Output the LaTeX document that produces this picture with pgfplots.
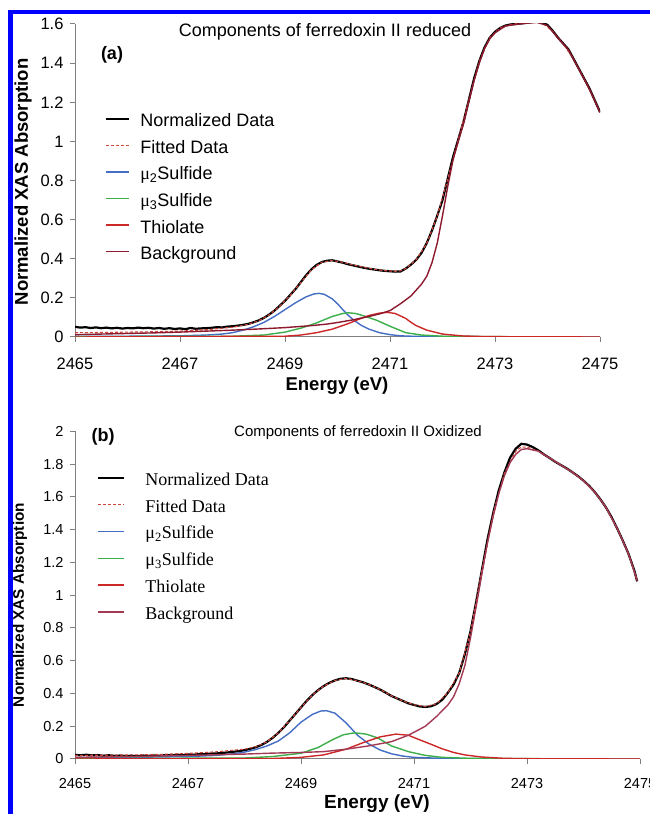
\documentclass[border=0pt]{standalone}
\usepackage{pgfplots}
\pgfplotsset{compat=1.18}
\usepackage{fontspec}
\setmainfont{Liberation Sans}
\newfontfamily\timesfont{Liberation Serif}
\definecolor{cblue}{RGB}{68,110,196}
\definecolor{cgreen}{RGB}{60,175,75}
\definecolor{cred}{RGB}{205,40,40}
\definecolor{cmaroon}{RGB}{140,25,45}
\definecolor{cfit}{RGB}{205,70,60}
\definecolor{cmauve}{RGB}{175,70,100}
\definecolor{axgray}{RGB}{128,128,128}
\pgfplotsset{
  myaxis/.style={
    scale only axis,
    axis x line=bottom, axis y line=left,
    axis line style={-, axgray, line width=1pt},
    every tick/.style={axgray, line width=1pt},
    tick align=outside, major tick length=5pt,
    xmin=2465, xmax=2475, ymin=0,
    xtick={2465,2467,2469,2471,2473,2475},
    xticklabels={2465,2467,2469,2471,2473,2475},
    /pgf/number format/assume math mode=true,
    legend cell align=left,
    legend image code/.code={\draw[#1] (0pt,0.35em) -- (23pt,0.35em);},
  },
}
\begin{document}
\begin{tikzpicture}
\useasboundingbox (0pt,0pt) rectangle (650pt,814pt);
\fill[white] (0pt,0pt) rectangle (650pt,814pt);
\fill[blue] (8pt,0pt) rectangle (13pt,804pt);
\fill[blue] (8pt,800pt) rectangle (650pt,804pt);

% ---------------- panel (a)
\begin{axis}[myaxis, at={(75pt,477pt)}, anchor=south west,
  width=525pt, height=313pt, ymax=1.6,
  ytick={0,0.2,0.4,0.6,0.8,1,1.2,1.4,1.6},
  yticklabels={0,0.2,0.4,0.6,0.8,1,1.2,1.4,1.6},
  ticklabel style={font=\fontsize{16.5}{18}\selectfont},
  xticklabel style={yshift=-12pt},
  yticklabel style={xshift=-3pt},
  legend style={at={(0.057,0.714)}, anchor=north west, draw=none, fill=none,
    inner sep=0pt, row sep=9.6pt, font=\fontsize{18}{20}\selectfont,
    nodes={inner sep=0pt, text height=13pt, text depth=4pt},
    /tikz/every odd column/.style={column sep=10pt}},
]
\addplot[black, line width=2.2pt] coordinates {
(2465.0,0.052)(2465.1,0.048)(2465.2,0.050)(2465.3,0.046)(2465.4,0.049)(2465.5,0.045)(2465.6,0.048)(2465.7,0.044)(2465.8,0.047)(2465.9,0.043)
(2466.0,0.046)(2466.1,0.044)(2466.2,0.048)(2466.3,0.045)(2466.4,0.047)(2466.5,0.043)(2466.6,0.046)(2466.7,0.042)(2466.8,0.045)(2466.9,0.041)
(2467.0,0.044)(2467.1,0.040)(2467.2,0.046)(2467.3,0.042)(2467.4,0.044)(2467.5,0.045)(2467.6,0.047)(2467.7,0.050)(2467.8,0.049)(2467.9,0.053)
(2468.0,0.055)(2468.1,0.058)(2468.2,0.062)(2468.3,0.067)(2468.4,0.075)(2468.5,0.085)(2468.6,0.098)(2468.7,0.115)(2468.8,0.135)(2468.9,0.160)
(2469.0,0.185)(2469.1,0.215)(2469.2,0.245)(2469.3,0.280)(2469.4,0.315)(2469.5,0.345)(2469.6,0.368)(2469.7,0.383)(2469.8,0.390)(2469.9,0.392)
(2470.0,0.386)(2470.1,0.380)(2470.2,0.372)(2470.3,0.366)(2470.4,0.360)(2470.5,0.354)(2470.6,0.349)(2470.7,0.345)(2470.8,0.341)(2470.9,0.338)
(2471.0,0.336)(2471.1,0.334)(2471.2,0.335)(2471.3,0.350)(2471.4,0.370)(2471.5,0.395)(2471.6,0.430)(2471.7,0.480)(2471.8,0.545)(2471.9,0.620)
(2472.0,0.700)(2472.1,0.810)(2472.2,0.920)(2472.3,1.010)(2472.4,1.100)(2472.5,1.210)(2472.6,1.320)(2472.7,1.410)(2472.8,1.480)(2472.9,1.530)
(2473.0,1.560)(2473.1,1.580)(2473.2,1.592)(2473.3,1.598)(2473.4,1.600)(2473.5,1.603)(2473.6,1.606)(2473.7,1.610)(2473.8,1.612)(2473.9,1.608)
(2474.0,1.595)(2474.1,1.565)(2474.2,1.530)(2474.3,1.500)(2474.4,1.470)(2474.5,1.420)(2474.6,1.370)(2474.7,1.320)(2474.8,1.270)(2474.9,1.210)(2475.0,1.150)};
\addlegendentry{Normalized Data}
\addplot[cfit, line width=1.1pt, dash pattern=on 3pt off 2pt] coordinates {
(2465,0.022)(2465.5,0.023)(2466,0.025)(2466.5,0.027)(2467,0.030)(2467.5,0.037)(2468,0.050)(2468.3,0.065)(2468.5,0.083)(2468.7,0.113)
(2468.9,0.158)(2469.1,0.213)(2469.3,0.278)(2469.5,0.343)(2469.7,0.382)(2469.9,0.391)(2470.1,0.382)(2470.3,0.368)(2470.5,0.356)(2470.7,0.346)
(2470.9,0.339)(2471.1,0.336)(2471.2,0.338)(2471.3,0.350)(2471.5,0.395)(2471.7,0.478)(2471.9,0.618)(2472.1,0.808)(2472.3,1.010)(2472.5,1.210)
(2472.7,1.410)(2472.9,1.530)(2473.1,1.580)(2473.3,1.598)(2473.5,1.605)(2473.7,1.612)(2473.9,1.606)(2474.1,1.563)(2474.3,1.498)(2474.5,1.418)
(2474.7,1.318)(2474.9,1.208)(2475.0,1.148)};
\addlegendentry{Fitted Data}
\addplot[cblue, line width=1.4pt] coordinates {
(2465,0.003)(2466,0.004)(2467,0.006)(2467.5,0.010)(2467.8,0.015)(2468.0,0.022)(2468.2,0.035)(2468.4,0.052)(2468.6,0.075)(2468.8,0.105)
(2469.0,0.140)(2469.2,0.175)(2469.4,0.205)(2469.55,0.220)(2469.65,0.223)(2469.75,0.218)(2469.9,0.195)(2470.0,0.170)(2470.1,0.140)(2470.2,0.112)
(2470.3,0.088)(2470.45,0.060)(2470.6,0.040)(2470.8,0.022)(2471.0,0.012)(2471.2,0.006)(2471.5,0.003)(2472,0.002)(2473.5,0.001)};
\addlegendentry{{\timesfont μ}\textsubscript{2}Sulfide}
\addplot[cgreen, line width=1.4pt] coordinates {
(2465,0.002)(2468,0.004)(2468.6,0.010)(2469.0,0.025)(2469.3,0.045)(2469.6,0.072)(2469.9,0.105)(2470.1,0.120)(2470.2,0.124)(2470.35,0.120)
(2470.5,0.108)(2470.75,0.085)(2471.0,0.055)(2471.3,0.022)(2471.6,0.010)(2472.0,0.004)(2473.5,0.001)};
\addlegendentry{{\timesfont μ}\textsubscript{3}Sulfide}
\addplot[cred, line width=1.4pt] coordinates {
(2465,0.0)(2469,0.004)(2469.3,0.010)(2469.6,0.022)(2469.9,0.040)(2470.2,0.068)(2470.4,0.090)(2470.6,0.110)(2470.8,0.122)(2470.95,0.126)
(2471.1,0.120)(2471.3,0.095)(2471.4,0.075)(2471.5,0.058)(2471.7,0.035)(2472.0,0.015)(2472.4,0.005)(2472.8,0.002)(2473.5,0.001)(2475,0.0)};
\addlegendentry{Thiolate}
\addplot[cmaroon, line width=1.4pt] coordinates {
(2465,0.012)(2465.5,0.015)(2466,0.018)(2466.5,0.021)(2467,0.025)(2467.5,0.030)(2468,0.035)(2468.5,0.041)(2469,0.048)(2469.5,0.058)
(2469.8,0.066)(2470.0,0.074)(2470.3,0.088)(2470.6,0.105)(2470.8,0.118)(2471.0,0.135)(2471.2,0.170)(2471.4,0.210)(2471.6,0.270)(2471.7,0.310)
(2471.8,0.380)(2471.9,0.480)(2472.0,0.620)(2472.1,0.770)(2472.2,0.905)(2472.3,1.000)(2472.4,1.090)(2472.5,1.200)(2472.6,1.310)(2472.7,1.400)
(2472.8,1.475)(2472.9,1.525)(2473.0,1.555)(2473.2,1.590)(2473.4,1.598)(2473.6,1.604)(2473.8,1.608)(2474.0,1.592)(2474.2,1.528)(2474.4,1.468)
(2474.6,1.368)(2474.8,1.268)(2475.0,1.148)};
\addlegendentry{Background}
\end{axis}
\node[font=\fontsize{18}{20}\selectfont] at (325pt,782pt) {Components of ferredoxin II reduced};
\node[font=\bfseries\fontsize{18}{20}\selectfont] at (112pt,759pt) {(a)};
\node[font=\bfseries\fontsize{18.5}{20}\selectfont, rotate=90] at (23pt,632pt) {Normalized XAS Absorption};
\node[font=\bfseries\fontsize{18.5}{20}\selectfont] at (337pt,428pt) {Energy (eV)};

% ---------------- panel (b)
\begin{axis}[myaxis, at={(75pt,55pt)}, anchor=south west,
  width=565pt, height=327.5pt, ymax=2,
  ytick={0,0.2,0.4,0.6,0.8,1,1.2,1.4,1.6,1.8,2},
  yticklabels={0,0.2,0.4,0.6,0.8,1,1.2,1.4,1.6,1.8,2},
  ticklabel style={font=\fontsize{14.5}{16}\selectfont},
  xticklabel style={yshift=-11pt},
  yticklabel style={xshift=-3pt},
  legend style={at={(0.039,0.876)}, anchor=north west, draw=none, fill=none,
    inner sep=0pt, row sep=9.8pt, font=\timesfont\fontsize{18}{20}\selectfont,
    nodes={inner sep=0pt, text height=13pt, text depth=4pt},
    /tikz/every odd column/.style={column sep=20pt}},
  legend image code/.code={\draw[#1] (0pt,0.3em) -- (26pt,0.3em);},
]
\addplot[black, line width=2.2pt] coordinates {
(2465.0,0.025)(2465.1,0.023)(2465.2,0.026)(2465.3,0.022)(2465.4,0.024)(2465.5,0.020)(2465.6,0.023)(2465.7,0.019)(2465.8,0.021)(2465.9,0.018)
(2466.0,0.020)(2466.1,0.017)(2466.2,0.021)(2466.3,0.019)(2466.4,0.022)(2466.5,0.020)(2466.6,0.024)(2466.7,0.022)(2466.8,0.026)(2466.9,0.024)
(2467.0,0.028)(2467.1,0.026)(2467.2,0.030)(2467.3,0.029)(2467.4,0.033)(2467.5,0.034)(2467.6,0.037)(2467.7,0.040)(2467.8,0.044)(2467.9,0.048)
(2468.0,0.054)(2468.1,0.062)(2468.2,0.072)(2468.3,0.086)(2468.4,0.105)(2468.5,0.130)(2468.6,0.160)(2468.7,0.195)(2468.8,0.235)(2468.9,0.275)
(2469.0,0.315)(2469.1,0.355)(2469.2,0.390)(2469.3,0.420)(2469.4,0.445)(2469.5,0.465)(2469.6,0.480)(2469.7,0.490)(2469.8,0.493)(2469.9,0.488)
(2470.0,0.478)(2470.1,0.468)(2470.2,0.455)(2470.3,0.440)(2470.4,0.424)(2470.5,0.405)(2470.6,0.385)(2470.7,0.370)(2470.8,0.355)(2470.9,0.340)
(2471.0,0.330)(2471.1,0.321)(2471.2,0.318)(2471.3,0.322)(2471.4,0.336)(2471.5,0.362)(2471.6,0.405)(2471.7,0.455)(2471.8,0.525)(2471.9,0.640)
(2472.0,0.780)(2472.1,0.960)(2472.2,1.150)(2472.3,1.340)(2472.4,1.500)(2472.5,1.640)(2472.6,1.750)(2472.7,1.840)(2472.8,1.895)(2472.9,1.925)
(2473.0,1.920)(2473.1,1.905)(2473.2,1.885)(2473.3,1.860)(2473.4,1.838)(2473.5,1.815)(2473.6,1.795)(2473.7,1.775)(2473.8,1.752)(2473.9,1.728)
(2474.0,1.700)(2474.1,1.668)(2474.2,1.630)(2474.3,1.585)(2474.4,1.535)(2474.5,1.475)(2474.6,1.405)(2474.7,1.330)(2474.8,1.250)(2474.9,1.150)(2474.95,1.085)};
\addlegendentry{Normalized Data}
\addplot[cfit, line width=1.1pt, dash pattern=on 3pt off 2pt] coordinates {
(2465,0.022)(2465.5,0.023)(2466,0.025)(2466.5,0.028)(2467,0.034)(2467.5,0.044)(2468,0.060)(2468.2,0.075)(2468.4,0.105)(2468.6,0.160)
(2468.8,0.235)(2469.0,0.315)(2469.2,0.390)(2469.4,0.445)(2469.6,0.480)(2469.8,0.492)(2470.0,0.478)(2470.2,0.456)(2470.4,0.425)(2470.6,0.386)
(2470.8,0.355)(2471.0,0.331)(2471.2,0.320)(2471.4,0.338)(2471.6,0.405)(2471.8,0.525)(2472.0,0.775)(2472.2,1.150)(2472.4,1.500)(2472.6,1.745)
(2472.8,1.880)(2472.9,1.905)(2473.0,1.905)(2473.2,1.880)(2473.4,1.838)(2473.6,1.795)(2473.8,1.752)(2474.0,1.700)(2474.2,1.630)(2474.4,1.535)
(2474.6,1.405)(2474.8,1.250)(2474.95,1.090)};
\addlegendentry{Fitted Data}
\addplot[cblue, line width=1.4pt] coordinates {
(2465,0.008)(2466,0.010)(2467,0.015)(2467.5,0.022)(2467.8,0.032)(2468.0,0.042)(2468.2,0.058)(2468.4,0.080)(2468.6,0.110)(2468.8,0.160)
(2469.0,0.225)(2469.2,0.272)(2469.35,0.293)(2469.45,0.295)(2469.6,0.280)(2469.8,0.220)(2470.0,0.145)(2470.2,0.092)(2470.4,0.055)(2470.6,0.032)
(2470.8,0.018)(2471.0,0.010)(2471.5,0.004)(2472,0.002)(2473.7,0.001)};
\addlegendentry{{\timesfont μ}\textsubscript{2}Sulfide}
\addplot[cgreen, line width=1.4pt] coordinates {
(2465,0.003)(2468,0.006)(2468.5,0.015)(2469.0,0.035)(2469.3,0.070)(2469.57,0.120)(2469.75,0.148)(2469.95,0.160)(2470.15,0.152)(2470.35,0.130)
(2470.6,0.080)(2470.9,0.045)(2471.2,0.022)(2471.5,0.010)(2472,0.004)(2473.7,0.001)};
\addlegendentry{{\timesfont μ}\textsubscript{3}Sulfide}
\addplot[cred, line width=1.4pt] coordinates {
(2465,0.0)(2468.5,0.003)(2469.0,0.010)(2469.4,0.025)(2469.8,0.060)(2470.1,0.100)(2470.4,0.135)(2470.68,0.152)(2470.9,0.145)(2471.08,0.120)
(2471.3,0.090)(2471.5,0.062)(2471.7,0.040)(2471.9,0.025)(2472.2,0.012)(2472.6,0.004)(2473.2,0.001)(2475,0.0)};
\addlegendentry{Thiolate}
\addplot[cmauve!70!cmaroon, line width=1.4pt] coordinates {
(2465,0.010)(2466,0.015)(2467,0.022)(2468,0.030)(2468.5,0.036)(2469,0.040)(2469.4,0.045)(2469.8,0.060)(2470.2,0.080)(2470.6,0.106)
(2470.9,0.145)(2471.2,0.200)(2471.4,0.260)(2471.6,0.330)(2471.7,0.380)(2471.8,0.460)(2471.9,0.570)(2472.0,0.740)(2472.1,0.930)(2472.2,1.130)
(2472.3,1.320)(2472.4,1.480)(2472.5,1.620)(2472.6,1.730)(2472.7,1.810)(2472.8,1.860)(2472.9,1.890)(2473.0,1.895)(2473.2,1.880)(2473.4,1.838)
(2473.6,1.795)(2473.8,1.752)(2474.0,1.700)(2474.2,1.630)(2474.4,1.535)(2474.6,1.405)(2474.8,1.250)(2474.95,1.090)};
\addlegendentry{Background}
\end{axis}
\node[font=\fontsize{15}{17}\selectfont] at (358pt,381pt) {Components of ferredoxin II Oxidized};
\node[font=\bfseries\fontsize{18}{20}\selectfont] at (103pt,377pt) {(b)};
\node[font=\bfseries\fontsize{15.3}{17}\selectfont, rotate=90] at (20pt,209pt) {Normalized XAS Absorption};
\node[font=\bfseries\fontsize{19}{21}\selectfont] at (377pt,10pt) {Energy (eV)};
\end{tikzpicture}
\end{document}
